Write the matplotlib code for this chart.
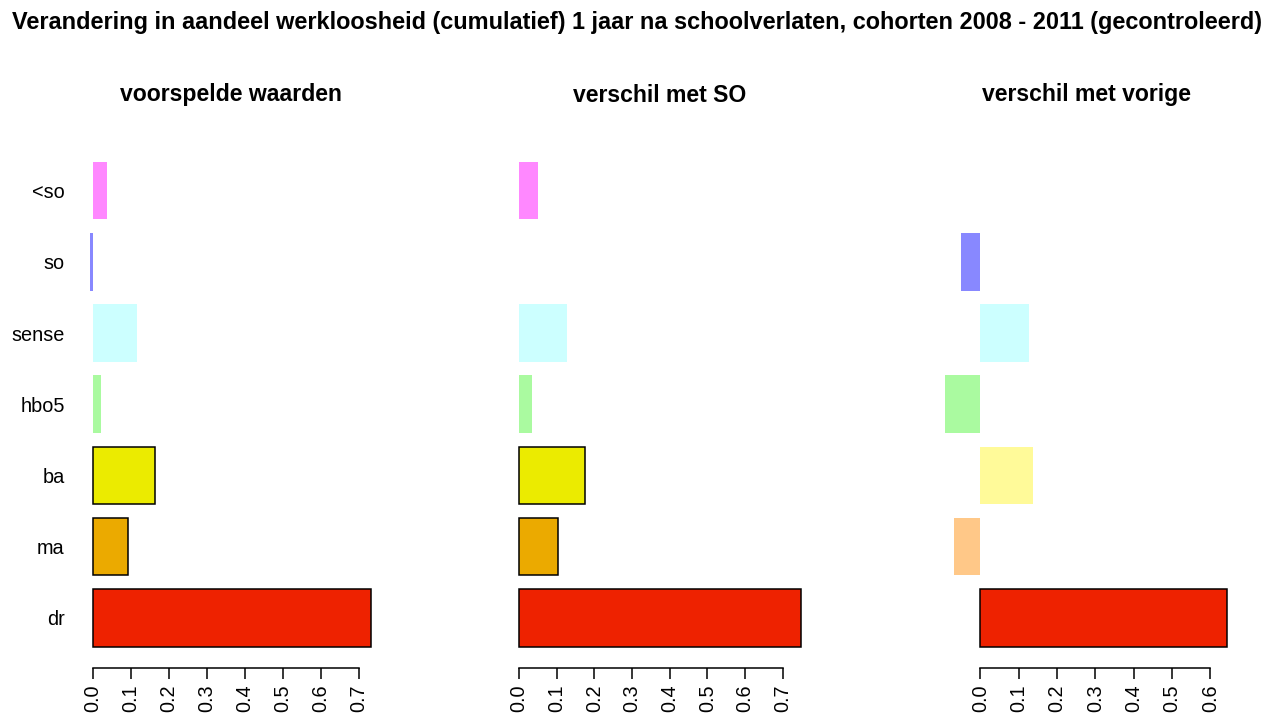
import numpy as np
import matplotlib
matplotlib.use("Agg")
import matplotlib.pyplot as plt
from matplotlib.ticker import FormatStrFormatter

plt.rcParams['font.family'] = ['Liberation Sans', 'DejaVu Sans']

# categories, top to bottom as shown
categories = ['<so', 'so', 'sense', 'hbo5', 'ba', 'ma', 'dr']

voorspeld = [0.038, -0.008, 0.116, 0.022, 0.163, 0.092, 0.733]
verschil_so = [0.050, 0.0, 0.128, 0.034, 0.175, 0.103, 0.747]
verschil_vorige = [0.0, -0.050, 0.127, -0.092, 0.137, -0.068, 0.643]

sig_voorspeld = [False, False, False, False, True, True, True]
sig_so = [False, False, False, False, True, True, True]
sig_vorige = [False, False, False, False, False, False, True]

full_colors = ['#FF00FF', '#0000FF', '#00FFFF', '#00FF00', '#EBEB00', '#EBAA00', '#EE2200']
light_colors = ['#FF88FF', '#8888FF', '#CCFFFF', '#AAFAA0', '#FFFA99', '#FFC888', '#FFA090']

panel_titles = ['voorspelde waarden', 'verschil met SO', 'verschil met vorige']
panels = [(voorspeld, sig_voorspeld), (verschil_so, sig_so), (verschil_vorige, sig_vorige)]

W, H = 1274, 720
fig = plt.figure(figsize=(W / 100, H / 100), dpi=100)

fig.text(0.5, 1 - 22 / H,
         'Verandering in aandeel werkloosheid (cumulatief) 1 jaar na schoolverlaten, cohorten 2008 - 2011 (gecontroleerd)',
         ha='center', va='center', fontsize=16.9, fontweight='bold')

# pixel extents of each plot region (left, right)
lefts = [78.6, 507.8, 934]
width_px = 304
top_px, bottom_px = 140.8, 667.7

ypos = np.arange(len(categories))[::-1]

for k, ((vals, sig), title) in enumerate(zip(panels, panel_titles)):
    ax = fig.add_axes([lefts[k] / W, 1 - bottom_px / H, width_px / W, (bottom_px - top_px) / H])
    for i, cat in enumerate(categories):
        if vals[i] == 0:
            continue
        if sig[i]:
            ax.barh(ypos[i], vals[i], height=0.81, color=full_colors[i],
                    edgecolor='black', linewidth=1.1)
        else:
            ax.barh(ypos[i], vals[i], height=0.81, color=light_colors[i], linewidth=0)
    ax.use_sticky_edges = False
    lo = min(0, min(vals))
    hi = max(vals)
    ext = 0.04 * (hi - lo)
    ax.set_xlim(lo - ext, hi + ext)
    ax.set_ylim(-0.7, len(categories) - 1 + 0.7)

    tmax = np.floor(hi * 10 + 1e-9) / 10
    ticks = np.arange(0, tmax + 1e-9, 0.1)
    ax.set_xticks(ticks)
    ax.xaxis.set_major_formatter(FormatStrFormatter('%.1f'))
    ax.tick_params(axis='x', direction='out', length=8, width=1.1, pad=4,
                   labelsize=14.3, labelrotation=90)
    for lab in ax.get_xticklabels():
        lab.set_va('top')
        lab.set_ha('center')

    for s in ['top', 'right', 'left']:
        ax.spines[s].set_visible(False)
    ax.spines['bottom'].set_bounds(0, tmax)
    ax.spines['bottom'].set_linewidth(1.1)

    if k == 0:
        ax.set_yticks(ypos)
        ax.set_yticklabels(categories, fontsize=14.3)
        ax.tick_params(axis='y', length=0, pad=10)
    else:
        ax.set_yticks([])

    ax.text(0.5, 1 + (140.8 - 95) / (bottom_px - top_px), title, transform=ax.transAxes,
            ha='center', va='center', fontsize=16.6, fontweight='bold')

fig.savefig('out.png', dpi=100)
